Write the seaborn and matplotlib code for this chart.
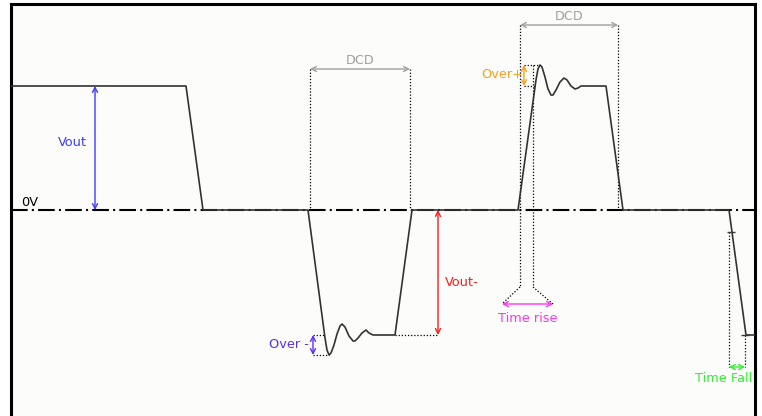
import numpy as np
import pandas as pd
import matplotlib
matplotlib.use("Agg")
import matplotlib.pyplot as plt
import seaborn as sns

# --- waveform (time in px-like units, voltage relative to 0V) ---
t_wave = [10, 186, 203, 308, 325, 327, 329, 331, 334, 337, 340, 342, 345, 349, 353, 355,
          358, 362, 366, 369, 373, 395, 412, 518, 536, 538, 540, 542, 545, 548, 551, 553,
          556, 560, 564, 567, 571, 575, 578, 581, 606, 623, 729, 746, 755]
v_wave = [124, 124, 0, 0, -128, -140, -145, -143, -135, -124, -116, -114, -117, -126, -131, -131,
          -128, -123, -120, -123, -125, -125, 0, 0, 130, 141, 145, 143, 133, 121, 115, 115,
          120, 128, 132, 130, 124, 121, 122, 124, 124, 0, 0, -125, -125]

# --- annotation values ---
v_high, v_low = 124, -125
over_neg, over_pos = -145, 145
vout_x, vout_neg_x = 95, 438
dcd1 = (310, 410)
dcd1_y = 141
dcd2 = (520, 618)
dcd2_y = 185
over_neg_x, over_pos_x = 313, 524
rise_guides = (520, 533)
rise_y, rise_span = -94, (502, 553)
rise_knee = -77
fall_guides = (729, 745)
fall_top = -22
fall_y = -157

C_VOUT = "#3b3bff"
C_OVERN = "#5a2df5"
C_RED = "#ff1a1a"
C_DCD = "#a0a0a0"
C_OVERP = "#f5a020"
C_RISE = "#ff33ee"
C_FALL = "#33ee33"

sns.set_style("white")
plt.rcParams["font.family"] = ["DejaVu Sans"]

fig = plt.figure(figsize=(7.62, 4.16), dpi=100, facecolor="white")
ax = fig.add_axes([10.5 / 762, 0, (755 - 10.5) / 762, 412.5 / 416])
ax.set_facecolor("#fcfcfa")
ax.set_xlim(10.5, 755)
ax.set_ylim(-206, 206.5)
ax.set_xticks([])
ax.set_yticks([])
for side in ["left", "top", "right"]:
    ax.spines[side].set_linewidth(2.2)
    ax.spines[side].set_color("black")
ax.spines["bottom"].set_visible(False)

# zero line
ax.axhline(0, color="black", lw=1.5, ls=(0, (8, 2, 1, 2)), zorder=1)

df = pd.DataFrame({"t": t_wave, "v": v_wave})
sns.lineplot(data=df, x="t", y="v", sort=False, estimator=None, color="#333333",
             lw=1.2, ax=ax, zorder=3)
ax.set_xlabel("")
ax.set_ylabel("")

dot = dict(color="black", lw=0.9, ls=(0, (1, 1.5)), zorder=2)


def darrow(p1, p2, color):
    ax.annotate("", xy=p1, xytext=p2,
                arrowprops=dict(arrowstyle="<->,head_length=0.35,head_width=0.18",
                                color=color, lw=1.0, shrinkA=0, shrinkB=0))


fs = 9.3

# Vout
darrow((vout_x, v_high), (vout_x, 0), C_VOUT)
ax.text(72, 67, "Vout", color=C_VOUT, fontsize=fs, ha="center", va="center")
ax.text(21, 7, "0V", color="black", fontsize=fs, ha="left", va="center")

# DCD 1
ax.plot([dcd1[0], dcd1[0]], [dcd1_y, 0], **dot)
ax.plot([dcd1[1], dcd1[1]], [dcd1_y, 0], **dot)
darrow((dcd1[0], dcd1_y), (dcd1[1], dcd1_y), C_DCD)
ax.text(np.mean(dcd1), dcd1_y + 9, "DCD", color=C_DCD, fontsize=fs, ha="center", va="center")

# Vout-
ax.plot([395, vout_neg_x], [v_low, v_low], **dot)
darrow((vout_neg_x, 0), (vout_neg_x, v_low), C_RED)
ax.text(445, -72, "Vout-", color=C_RED, fontsize=fs, ha="left", va="center")

# Over -
ax.plot([over_neg_x, 324], [v_low, v_low], **dot)
ax.plot([over_neg_x, 329], [over_neg, over_neg], **dot)
darrow((over_neg_x, v_low), (over_neg_x, over_neg), C_OVERN)
ax.text(309, -135, "Over -", color=C_OVERN, fontsize=fs, ha="right", va="center")

# DCD 2
ax.plot([dcd2[0], dcd2[0]], [dcd2_y, rise_knee], **dot)
ax.plot([dcd2[1], dcd2[1]], [dcd2_y, 0], **dot)
darrow((dcd2[0], dcd2_y), (dcd2[1], dcd2_y), C_DCD)
ax.text(np.mean(dcd2), dcd2_y + 8, "DCD", color=C_DCD, fontsize=fs, ha="center", va="center")

# Over+
ax.plot([over_pos_x, 540], [over_pos, over_pos], **dot)
ax.plot([over_pos_x, 536], [v_high, v_high], **dot)
darrow((over_pos_x, over_pos), (over_pos_x, v_high), C_OVERP)
ax.text(523, 135, "Over+", color=C_OVERP, fontsize=fs, ha="right", va="center")

# Time rise
ax.plot([rise_guides[1], rise_guides[1]], [over_pos, rise_knee], **dot)
ax.plot([rise_guides[0], rise_span[0]], [rise_knee, rise_y], **dot)
ax.plot([rise_guides[1], rise_span[1]], [rise_knee, rise_y], **dot)
darrow((rise_span[0], rise_y), (rise_span[1], rise_y), C_RISE)
ax.text(np.mean(rise_span), -109, "Time rise", color=C_RISE, fontsize=fs, ha="center", va="center")

# Time Fall
ax.plot([fall_guides[0], fall_guides[0]], [fall_top, fall_y], **dot)
ax.plot([fall_guides[1], fall_guides[1]], [v_low, fall_y], **dot)
ax.plot([fall_guides[0] + 2, fall_guides[1]], [fall_top, v_low], ls="none", marker="_",
        ms=6, mew=1.0, color="#3a3a3a", zorder=4)
darrow((fall_guides[0], fall_y), (fall_guides[1], fall_y), C_FALL)
ax.text(724, -168, "Time Fall", color=C_FALL, fontsize=fs, ha="center", va="center")

fig.savefig("out.png", dpi=100, facecolor="white")
